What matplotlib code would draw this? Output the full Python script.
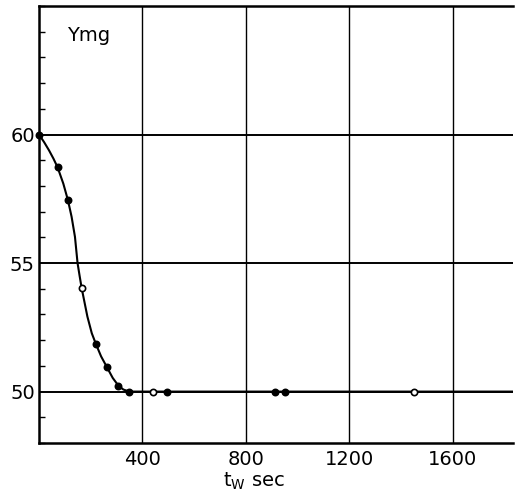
import matplotlib
matplotlib.use("Agg")
import matplotlib.pyplot as plt
from matplotlib.ticker import MultipleLocator

# measured points (t_w in sec, Y in mg)
t_pts = [0, 72, 112, 165, 220, 262, 307, 349, 439, 493, 912, 950, 1450]
y_pts = [60, 58.72, 57.44, 54.02, 51.85, 50.96, 50.23, 50.0, 50.0, 50.0, 50.0, 50.0, 50.0]
open_pts = [False, False, False, True, False, False, False, False, True, False, False, False, True]

# fitted curve
t_curve = [0, 20, 39, 56, 72, 94, 112, 126, 139, 149, 157, 165, 174, 187, 204, 220, 240, 262,
           285, 307, 326, 349, 1832]
y_curve = [60, 59.7, 59.38, 59.06, 58.72, 58.09, 57.44, 56.8, 56.02, 55.0, 54.5, 54.02, 53.57,
           52.92, 52.27, 51.85, 51.37, 50.96, 50.53, 50.23, 50.08, 50.0, 50.0]

x_ticks = [400, 800, 1200, 1600]
y_ticks = [50, 55, 60]

plt.rcParams['font.family'] = ['DejaVu Sans']

fig = plt.figure(figsize=(5.18, 5.01), dpi=100)
ax = fig.add_axes([39 / 518, 58 / 501, 474 / 518, 437 / 501])

ax.set_xlim(0, 1832)
ax.set_ylim(48, 65)

for yv in y_ticks:
    ax.axhline(yv, color='black', lw=1.4, zorder=1)
for xv in x_ticks:
    ax.axvline(xv, color='black', lw=1.0, zorder=1)

ax.plot(t_curve, y_curve, color='black', lw=1.5, zorder=2, solid_joinstyle='round')
for t, y, o in zip(t_pts, y_pts, open_pts):
    ax.plot(t, y, 'o', ms=4.5, mec='black', mew=1.2,
            mfc='white' if o else 'black', zorder=3, clip_on=False)

ax.set_xticks(x_ticks)
ax.set_yticks(y_ticks)
ax.yaxis.set_minor_locator(MultipleLocator(1))
ax.tick_params(axis='both', which='major', length=0, labelsize=14)
ax.tick_params(axis='x', pad=5)
ax.tick_params(axis='y', pad=3)
ax.tick_params(axis='y', which='minor', direction='in', length=4, width=1)
ax.tick_params(axis='x', which='both', length=0)

for s in ['left', 'bottom', 'top']:
    ax.spines[s].set_linewidth(1.8)
ax.spines['right'].set_visible(False)

ax.text(0.06, 0.955, 'Ymg', transform=ax.transAxes, fontsize=14, va='top', ha='left')
ax.text(830, 46.3, r'$\mathregular{t_W}$ sec', fontsize=14, ha='center', va='baseline')

fig.savefig('out.png', dpi=100)
